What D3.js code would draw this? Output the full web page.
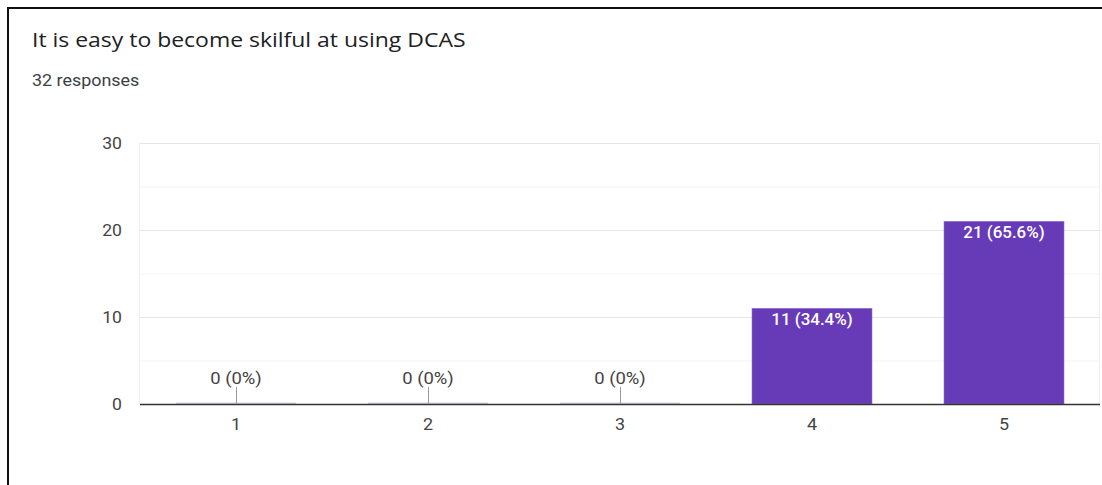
<!DOCTYPE html>
<html>
<head>
<meta charset="utf-8">
<script src="https://cdn.jsdelivr.net/npm/d3@7"></script>
<style>
  html, body { margin: 0; padding: 0; background: #fff; }
  svg { display: block; }
  /* slightly widened lettering */
  svg text { transform-box: fill-box; }
  .wide-left { transform-origin: 0% 50%; transform: scaleX(1.12); }
  .wide-mid { transform-origin: 50% 50%; transform: scaleX(1.12); }
  .wide-end { transform-origin: 100% 50%; transform: scaleX(1.1); }
</style>
</head>
<body>
<svg id="chart" width="1102" height="485"></svg>
<script>
// Survey question and response counts per rating
const title = "It is easy to become skilful at using DCAS";
const subtitle = "32 responses";
const categories = ["1", "2", "3", "4", "5"];
const counts = [0, 0, 0, 11, 21];
const percentLabels = ["0%", "0%", "0%", "34.4%", "65.6%"];
const yTicks = [0, 10, 20, 30];
const yMinorTicks = [5, 15, 25];

const svg = d3.select("#chart");
const W = 1102, H = 485;
const plot = { left: 140, right: 1100, top: 143, bottom: 404 };

// Card frame (top and left edges)
svg.append("line").attr("x1", 8).attr("y1", 8).attr("x2", W).attr("y2", 8)
  .attr("stroke", "#111").attr("stroke-width", 2);
svg.append("line").attr("x1", 8).attr("y1", 7).attr("x2", 8).attr("y2", H)
  .attr("stroke", "#111").attr("stroke-width", 2);

// Heading
svg.append("text").attr("class", "wide-left").attr("x", 32).attr("y", 47)
  .attr("font-family", "'Open Sans', sans-serif").attr("font-size", 20.5)
  .attr("fill", "#202124").text(title);
svg.append("text").attr("class", "wide-left").attr("x", 32).attr("y", 86)
  .attr("font-family", "Roboto, sans-serif").attr("font-size", 16)
  .attr("fill", "#3c4043").text(subtitle);

const x = d3.scaleBand().domain(categories)
  .range([plot.left, plot.right]).paddingInner(0.375).paddingOuter(0.1875);
const y = d3.scaleLinear().domain([0, 30]).range([plot.bottom, plot.top]);

// Grid
const g = svg.append("g");
g.selectAll("line.minor").data(yMinorTicks).join("line").attr("class", "minor")
  .attr("x1", plot.left).attr("x2", plot.right)
  .attr("y1", d => y(d) + 0.5).attr("y2", d => y(d) + 0.5)
  .attr("stroke", "#f3f3f3").attr("stroke-width", 1);
g.selectAll("line.major").data(yTicks.filter(d => d > 0)).join("line").attr("class", "major")
  .attr("x1", plot.left).attr("x2", plot.right)
  .attr("y1", d => y(d) + 0.5).attr("y2", d => y(d) + 0.5)
  .attr("stroke", "#e6e6e6").attr("stroke-width", 1);
[plot.left, plot.right].forEach(px => {
  g.append("line").attr("x1", px - 0.5).attr("x2", px - 0.5)
    .attr("y1", plot.top).attr("y2", plot.bottom)
    .attr("stroke", "#efefef").attr("stroke-width", 1);
});

// Y tick labels
const yAxis = d3.axisLeft(y).tickValues(yTicks).tickSize(0).tickPadding(0);
const ya = svg.append("g").attr("transform", `translate(${122},0)`).call(yAxis);
ya.select(".domain").remove();
ya.selectAll("text").attr("class", "wide-end").attr("font-family", "Roboto, sans-serif").attr("font-size", 16)
  .attr("fill", "#444").attr("dy", "0.35em");

// Bars
const data = categories.map((c, i) => ({ cat: c, v: counts[i], pct: percentLabels[i] }));
svg.selectAll("rect.bar").data(data.filter(d => d.v > 0)).join("rect").attr("class", "bar")
  .attr("x", d => x(d.cat)).attr("width", x.bandwidth())
  .attr("y", d => y(d.v)).attr("height", d => y(0) - y(d.v))
  .attr("fill", "#673ab7").attr("stroke", "#9575cd").attr("stroke-width", 0.6);

// Zero-height bars shown as a faint sliver on the baseline
svg.selectAll("rect.zero").data(data.filter(d => d.v === 0)).join("rect").attr("class", "zero")
  .attr("x", d => x(d.cat)).attr("width", x.bandwidth())
  .attr("y", y(0) - 1.5).attr("height", 1.5)
  .attr("fill", "#d6d0e4");

// Baseline
svg.append("line").attr("x1", plot.left).attr("x2", plot.right)
  .attr("y1", y(0) + 0.5).attr("y2", y(0) + 0.5)
  .attr("stroke", "#333").attr("stroke-width", 1.5);

// X tick labels
const xAxis = d3.axisBottom(x).tickSize(0).tickPadding(0);
const xa = svg.append("g").attr("transform", `translate(0,${430})`).call(xAxis);
xa.select(".domain").remove();
xa.selectAll("text").attr("class", "wide-mid").attr("font-family", "Roboto, sans-serif").attr("font-size", 16)
  .attr("fill", "#444").attr("dy", 0);

// Value labels
const cx = d => x(d.cat) + x.bandwidth() / 2;
svg.selectAll("text.inside").data(data.filter(d => d.v > 0)).join("text")
  .attr("class", "inside wide-mid")
  .attr("x", cx).attr("y", d => y(d.v) + 17)
  .attr("text-anchor", "middle").attr("font-family", "Roboto, sans-serif")
  .attr("font-size", 16).attr("font-weight", 500).attr("fill", "#fff")
  .style("transform", "scaleX(1.06)")
  .text(d => `${d.v} (${d.pct})`);

const zeros = data.filter(d => d.v === 0);
svg.selectAll("line.stem").data(zeros).join("line").attr("class", "stem")
  .attr("x1", d => cx(d) + 0.5).attr("x2", d => cx(d) + 0.5)
  .attr("y1", 387).attr("y2", y(0))
  .attr("stroke", "#999").attr("stroke-width", 1);
svg.selectAll("text.outside").data(zeros).join("text").attr("class", "outside wide-mid")
  .attr("x", cx).attr("y", 384)
  .attr("text-anchor", "middle").attr("font-family", "Roboto, sans-serif")
  .attr("font-size", 16.5).attr("fill", "#444")
  .text(d => `${d.v} (${d.pct})`);
</script>
</body>
</html>
